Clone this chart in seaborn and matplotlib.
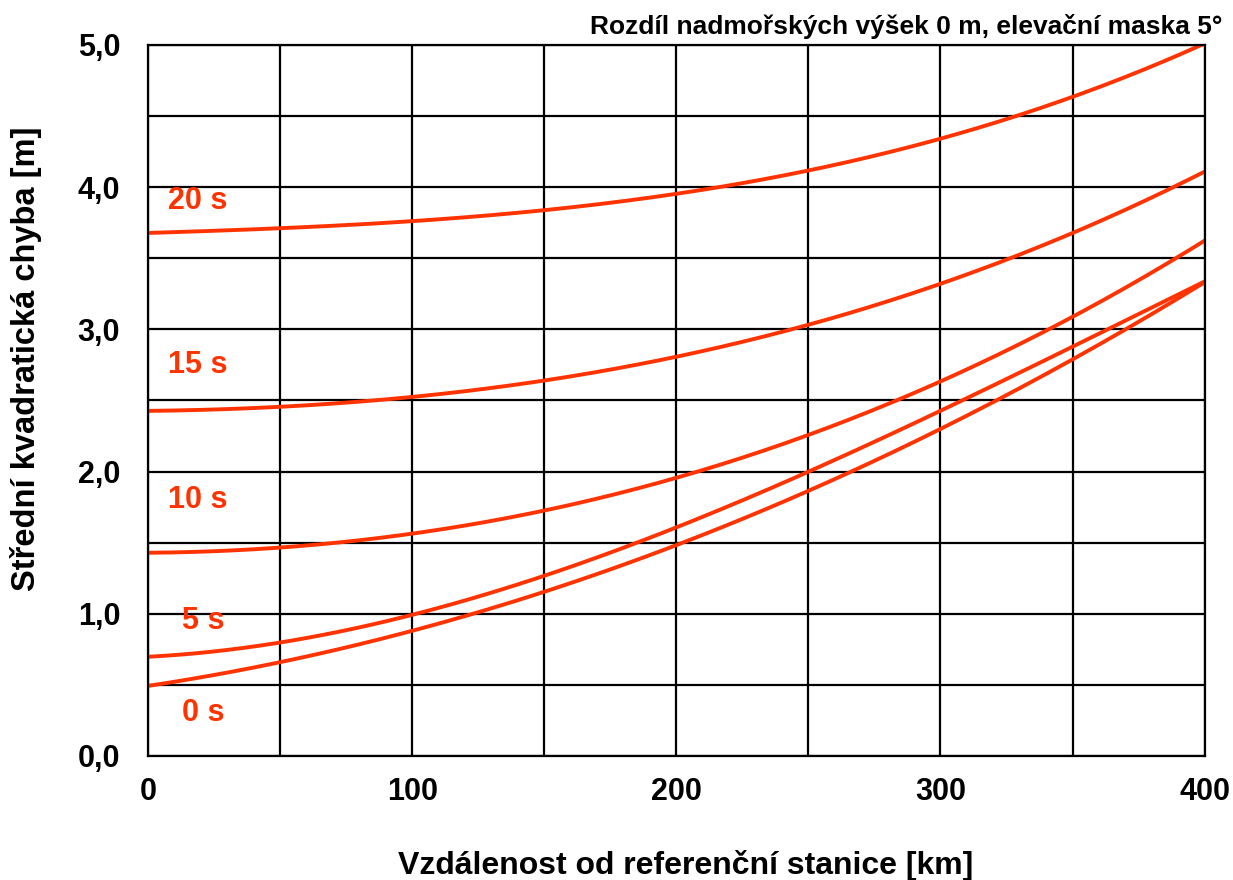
import numpy as np
import pandas as pd
import matplotlib
matplotlib.use("Agg")
import matplotlib.pyplot as plt
import seaborn as sns

# vzdálenost od referenční stanice [km]
distance = [0, 50, 100, 150, 200, 250, 300, 350, 400]

# střední kvadratická chyba [m] pro různé stáří korekcí
rms_0s = [0.50, 0.65, 0.87, 1.16, 1.48, 1.90, 2.27, 2.78, 3.34]
rms_5s = [0.69, 0.81, 1.00, 1.25, 1.60, 2.00, 2.45, 2.86, 3.34]
rms_10s = [1.42, 1.48, 1.57, 1.71, 1.95, 2.26, 2.64, 3.09, 3.62]
rms_15s = [2.43, 2.45, 2.52, 2.64, 2.82, 3.03, 3.31, 3.68, 4.11]
rms_20s = [3.67, 3.72, 3.77, 3.83, 3.95, 4.10, 4.35, 4.65, 5.00]

series_names = ["0 s", "5 s", "10 s", "15 s", "20 s"]
label_pos = [(21, 0.30), (21, 0.95), (19, 1.80), (19, 2.75), (19, 3.90)]

df = pd.DataFrame({
    "km": distance * 5,
    "rms": rms_0s + rms_5s + rms_10s + rms_15s + rms_20s,
    "age": sum([[n] * len(distance) for n in series_names], []),
})

# hladké křivky (kubický polynom přes odečtené body)
smooth = []
for name, grp in df.groupby("age", sort=False):
    coef = np.polyfit(grp["km"], grp["rms"], 3)
    xs = np.linspace(0, 400, 200)
    smooth.append(pd.DataFrame({"km": xs, "rms": np.polyval(coef, xs), "age": name}))
smooth = pd.concat(smooth)

sns.set_style("white")
plt.rcParams["font.family"] = ["Liberation Sans", "DejaVu Sans"]
plt.rcParams["text.color"] = "black"
plt.rcParams["axes.labelcolor"] = "black"
plt.rcParams["xtick.color"] = "black"
plt.rcParams["ytick.color"] = "black"
red = "#FF3300"

fig = plt.figure(figsize=(12.33, 8.8), dpi=100)
ax = fig.add_axes([0.12, 0.141, 0.857, 0.808])

sns.lineplot(data=smooth, x="km", y="rms", units="age", estimator=None,
             color=red, linewidth=2.8, ax=ax, legend=False)

for name, (lx, ly) in zip(series_names, label_pos):
    ax.text(lx, ly, name, color=red, fontsize=22, fontweight="bold",
            ha="center", va="center")

ax.set_xlim(0, 400)
ax.set_ylim(0, 5)
ax.set_xticks(np.arange(0, 401, 50))
ax.set_xticklabels(["0", "", "100", "", "200", "", "300", "", "400"])
ax.set_yticks(np.arange(0, 5.01, 0.5))
ax.set_yticklabels(["0,0", "", "1,0", "", "2,0", "", "3,0", "", "4,0", "", "5,0"])
ax.grid(True, color="black", linewidth=1.6)
for s in ax.spines.values():
    s.set_color("black")
    s.set_linewidth(1.6)
ax.tick_params(length=0, labelsize=22)
ax.tick_params(axis="x", pad=15)
ax.tick_params(axis="y", pad=20)
for t in ax.get_xticklabels() + ax.get_yticklabels():
    t.set_fontweight("bold")

ax.set_xlabel("Vzdálenost od referenční stanice [km]", fontsize=23,
              fontweight="bold")
ax.xaxis.set_label_coords(0.509, -0.133)
ax.set_ylabel("Střední kvadratická chyba [m]", fontsize=23.5,
              fontweight="bold")
ax.yaxis.set_label_coords(-0.100, 0.558)
fig.text(0.991, 0.970, "Rozdíl nadmořských výšek 0 m, elevační maska 5°",
         ha="right", va="center", fontsize=19, fontweight="bold")

fig.savefig("out.png", dpi=100)
